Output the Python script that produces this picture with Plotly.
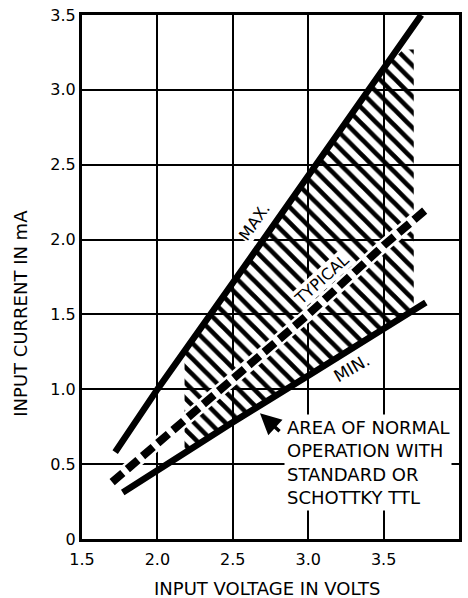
import plotly.graph_objects as go

# ---- data ----
voltage_max = [1.72, 2.0, 2.5, 3.0, 3.5, 3.75]
current_max = [0.58, 1.0, 1.71, 2.43, 3.14, 3.5]

voltage_typ = [1.70, 2.0, 2.5, 3.0, 3.5, 3.78]
current_typ = [0.38, 0.64, 1.06, 1.50, 1.96, 2.20]

voltage_min = [1.77, 2.0, 2.5, 3.0, 3.5, 3.78]
current_min = [0.31, 0.46, 0.78, 1.09, 1.41, 1.58]

# hatched "area of normal operation" boundary
hatch_upper_v = [2.18, 2.5, 3.0, 3.5, 3.63, 3.70]
hatch_upper_i = [1.26, 1.71, 2.43, 3.14, 3.27, 3.27]
hatch_lower_v = [2.18, 2.5, 3.0, 3.5, 3.70]
hatch_lower_i = [0.57, 0.78, 1.09, 1.41, 1.54]

x_ticks = [1.5, 2.0, 2.5, 3.0, 3.5, 4.0]
x_ticktext = ["1.5", "2.0", "2.5", "3.0", "3.5", "4.0"]
y_ticks = [0, 0.5, 1.0, 1.5, 2.0, 2.5, 3.0, 3.5]
y_ticktext = ["0", "0.5", "1.0", "1.5", "2.0", "2.5", "3.0", "3.5"]

FONT = "DejaVu Sans"

fig = go.Figure()

# hatched region
fig.add_trace(go.Scatter(
    x=hatch_upper_v + hatch_lower_v[::-1],
    y=hatch_upper_i + hatch_lower_i[::-1],
    fill="toself", mode="lines", line=dict(width=0, color="rgba(0,0,0,0)"),
    fillcolor="rgba(255,255,255,0)",
    fillpattern=dict(shape="\\", size=11, solidity=0.42, fgopacity=1,
                     fgcolor="black", bgcolor="rgba(255,255,255,0)"),
    hoverinfo="skip", showlegend=False))

# white halo under typical line
fig.add_trace(go.Scatter(x=voltage_typ, y=current_typ, mode="lines",
                         line=dict(color="white", width=13),
                         hoverinfo="skip", showlegend=False))
# typical dashed line
fig.add_trace(go.Scatter(x=voltage_typ, y=current_typ, mode="lines",
                         line=dict(color="black", width=8, dash="14px,6px"),
                         showlegend=False))
# max line
fig.add_trace(go.Scatter(x=voltage_max, y=current_max, mode="lines",
                         line=dict(color="black", width=6.5), showlegend=False))
# min line
fig.add_trace(go.Scatter(x=voltage_min, y=current_min, mode="lines",
                         line=dict(color="black", width=6.5), showlegend=False))

axis_common = dict(showgrid=True, gridcolor="black", gridwidth=2,
                   showline=True, linecolor="black", linewidth=3, mirror=True,
                   zeroline=False, ticks="", tickfont=dict(family=FONT, size=16, color="black"))

fig.update_xaxes(range=[1.5, 4.0], tickvals=x_ticks, ticktext=x_ticktext,
                 ticklabelstandoff=4, **axis_common)
fig.update_yaxes(range=[0, 3.5], tickvals=y_ticks, ticktext=y_ticktext,
                 ticklabelstandoff=0, **axis_common)

annotations = [
    dict(text="INPUT VOLTAGE IN VOLTS", xref="paper", yref="paper",
         x=0.492, y=-0.095, xanchor="center", yanchor="middle", showarrow=False,
         font=dict(family=FONT, size=18, color="black")),
    dict(text="INPUT CURRENT IN mA", xref="paper", yref="paper",
         x=-0.163, y=0.431, xanchor="center", yanchor="middle", showarrow=False,
         textangle=-90, font=dict(family=FONT, size=18, color="black")),
    dict(text="MAX.", x=2.645, y=2.12, showarrow=False, textangle=-55,
         bgcolor="white", borderpad=0,
         font=dict(family=FONT, size=16, color="black")),
    dict(text="TYPICAL", x=3.09, y=1.73, showarrow=False, textangle=-42,
         bgcolor="white", borderpad=0,
         font=dict(family=FONT, size=16, color="black")),
    dict(text="MIN.", x=3.29, y=1.14, showarrow=False, textangle=-30,
         font=dict(family=FONT, size=17, color="black")),
    dict(text="AREA OF NORMAL<br>OPERATION WITH<br>STANDARD OR<br>SCHOTTKY TTL",
         x=2.84, y=0.835, xanchor="left", yanchor="top", align="left",
         showarrow=False, bgcolor="white", borderpad=2,
         font=dict(family=FONT, size=18, color="black")),
    dict(text="", x=2.68, y=0.84, ax=2.82, ay=0.71, axref="x", ayref="y",
         showarrow=True, arrowhead=2, arrowsize=1.2, arrowwidth=3.5, arrowcolor="black"),
]

fig.update_layout(
    width=468, height=598,
    margin=dict(l=82, r=6, t=15, b=59),
    plot_bgcolor="white", paper_bgcolor="white",
    annotations=annotations, showlegend=False,
)

fig.write_html("out.html", config={"displayModeBar": False},
               post_script="document.body.style.margin='0px';")
